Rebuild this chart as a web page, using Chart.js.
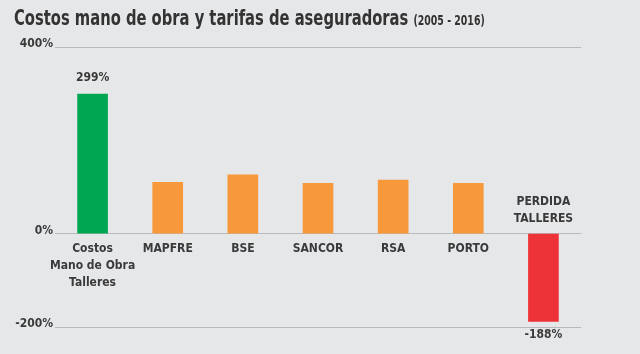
<!DOCTYPE html>
<html><head><meta charset="utf-8">
<script src="https://cdn.jsdelivr.net/npm/chart.js@4"></script>
<style>
html,body{margin:0;padding:0;background:#e6e7e9;}
#wrap{position:relative;width:640px;height:354px;}
#title{position:absolute;left:14px;top:5px;font-family:"DejaVu Sans Condensed",sans-serif;font-weight:bold;font-size:22px;color:#333;white-space:nowrap;transform:scaleX(0.745);transform-origin:0 0;}
#title small{font-size:14px;}
canvas{position:absolute;left:0;top:0;}
</style></head>
<body><div id="wrap"><canvas id="c" width="640" height="354"></canvas>
<div id="title">Costos mano de obra y tarifas de aseguradoras <small>(2005 - 2016)</small></div></div>
<script>
const categories = [["Costos","Mano de Obra","Talleres"],["MAPFRE"],["BSE"],["SANCOR"],["RSA"],["PORTO"],["PERDIDA","TALLERES"]];
const values = [299, 110, 126, 108, 115, 108, -188];
const valueLabels = ["299%", "", "", "", "", "", "-188%"];
const yTicks = [-200, 0, 400];
const colors = ["#00a651","#f7993a","#f7993a","#f7993a","#f7993a","#f7993a","#ee3338"];

const textColor = "#3a3a3a";
const fontFam = "'DejaVu Sans Condensed',sans-serif";

const labelsPlugin = {
  id: 'labelsPlugin',
  afterDatasetsDraw(chart) {
    const ctx = chart.ctx;
    const x = chart.scales.x, y = chart.scales.y;
    const zero = y.getPixelForValue(0);
    ctx.save();
    ctx.fillStyle = textColor;
    ctx.textAlign = 'center';
    ctx.font = "bold 12px " + fontFam;
    categories.forEach((lines, i) => {
      const cx = x.getPixelForValue(i);
      const lh = 17;
      if (values[i] >= 0) {
        ctx.textBaseline = 'top';
        lines.forEach((l, j) => ctx.fillText(l, cx, zero + 9 + j * lh));
      } else {
        ctx.textBaseline = 'bottom';
        const n = lines.length;
        lines.forEach((l, j) => ctx.fillText(l, cx, zero - 9 - (n - 1 - j) * lh));
      }
    });
    const meta = chart.getDatasetMeta(0);
    ctx.font = "bold 12px " + fontFam;
    valueLabels.forEach((t, i) => {
      if (!t) return;
      const el = meta.data[i];
      if (values[i] >= 0) {
        ctx.textBaseline = 'bottom';
        ctx.fillText(t, el.x, el.y - 10);
      } else {
        ctx.textBaseline = 'top';
        ctx.fillText(t, el.x, el.y + 7);
      }
    });
    ctx.restore();
  }
};

new Chart(document.getElementById('c'), {
  type: 'bar',
  data: {
    labels: categories.map(c => c.join(' ')),
    datasets: [{ data: values, backgroundColor: colors, borderWidth: 0, barThickness: 30 }]
  },
  options: {
    responsive: false,
    animation: false,
    layout: { padding: { top: 47, bottom: 27, left: 0, right: 59 } },
    plugins: { legend: { display: false }, tooltip: { enabled: false } },
    scales: {
      x: { display: false },
      y: {
        min: -200, max: 400,
        afterBuildTicks: s => { s.ticks = yTicks.map(v => ({ value: v })); },
        afterFit: s => { s.width = 55; },
        border: { display: false },
        grid: { color: '#b9babc', lineWidth: 1, drawTicks: false },
        ticks: {
          callback: v => v + '%',
          color: textColor,
          font: { family: fontFam, weight: 'bold', size: 12 },
          padding: 2,
          labelOffset: -3
        }
      }
    }
  },
  plugins: [labelsPlugin]
});
</script></body></html>
